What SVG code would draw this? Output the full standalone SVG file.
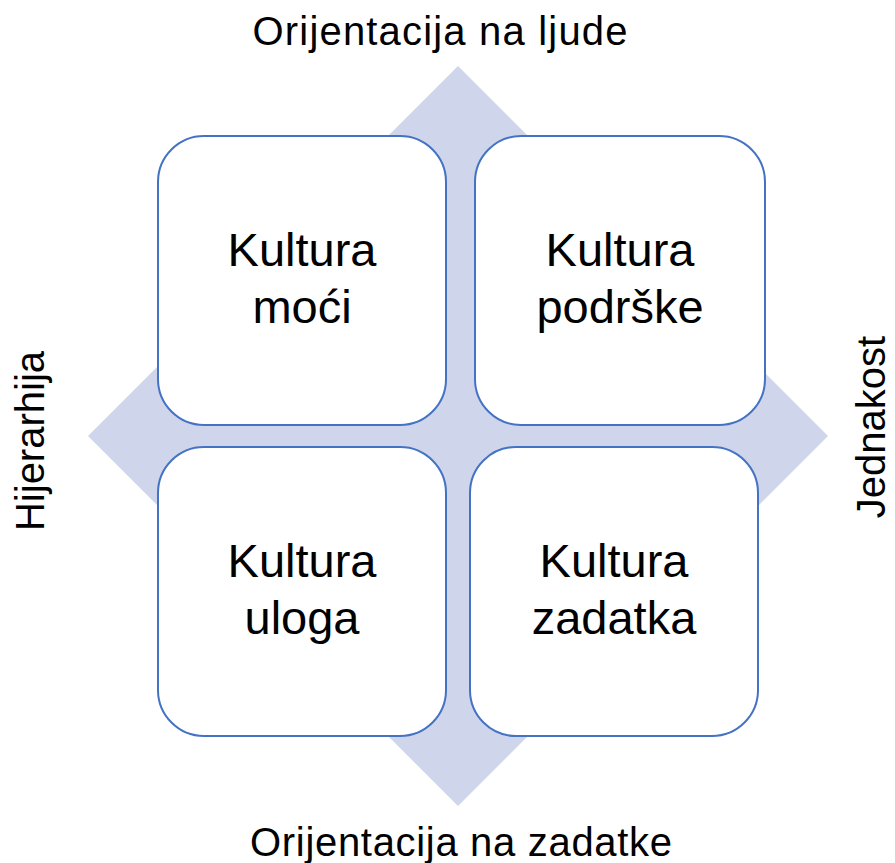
<svg xmlns="http://www.w3.org/2000/svg" width="895" height="863" viewBox="0 0 895 863">
<style>
.box{fill:#fff;stroke:#4472C4;stroke-width:2}
.big{font-family:"Liberation Sans",Arial,sans-serif;font-size:47px;fill:#000;text-anchor:middle}
.lab{font-family:"Liberation Sans",Arial,sans-serif;font-size:40px;fill:#000;text-anchor:middle}
</style>
<rect width="895" height="863" fill="#fff"/>
<g id="diamond"><polygon points="458,66 828,436 458,806 88,436" fill="#CFD5EA"/></g>
<g id="connectors"></g>
<g id="kultura-moci">
<rect class="box" x="158" y="136" width="288" height="289" rx="46"/>
<text class="big" x="302" y="266">Kultura</text>
<text class="big" x="302" y="323">moći</text>
</g>
<g id="kultura-podrske">
<rect class="box" x="475" y="136" width="290" height="289" rx="46"/>
<text class="big" x="620" y="266">Kultura</text>
<text class="big" x="620" y="323">podrške</text>
</g>
<g id="kultura-uloga">
<rect class="box" x="158" y="447" width="288" height="289" rx="46"/>
<text class="big" x="302" y="577">Kultura</text>
<text class="big" x="302" y="634">uloga</text>
</g>
<g id="kultura-zadatka">
<rect class="box" x="470" y="447" width="288" height="289" rx="46"/>
<text class="big" x="614" y="577">Kultura</text>
<text class="big" x="614" y="634">zadatka</text>
</g>
<g id="labels">
<text class="lab" x="440" y="45" textLength="375" lengthAdjust="spacing">Orijentacija na ljude</text>
<text class="lab" x="461" y="856" textLength="422" lengthAdjust="spacing">Orijentacija na zadatke</text>
<text class="lab" transform="translate(44,441) rotate(-90)" x="0" y="0">Hijerarhija</text>
<text class="lab" transform="translate(885,427) rotate(-90)" x="0" y="0" font-size="41">Jednakost</text>
</g>
</svg>
